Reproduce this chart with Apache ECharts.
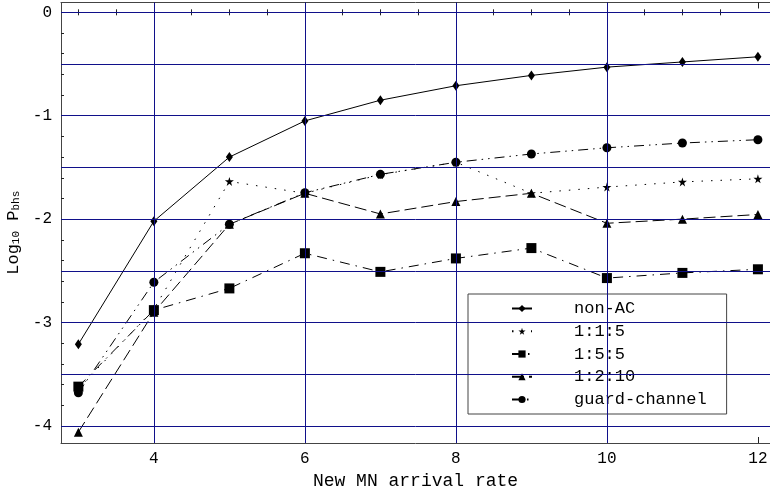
<!DOCTYPE html>
<html>
<head>
<meta charset="utf-8">
<script src="https://cdn.jsdelivr.net/npm/echarts/dist/echarts.min.js"></script>
<style>html,body{margin:0;padding:0;background:#fff;}#c{width:770px;height:491px;}</style>
</head>
<body>
<div id="c"></div>
<script>
var arrivalRate = [3, 4, 5, 6, 7, 8, 9, 10, 11, 12];
var nonAC        = [-3.21, -2.02, -1.40, -1.05, -0.85, -0.71, -0.61, -0.53, -0.48, -0.43];
var ratio115     = [-3.64, -2.87, -1.635, -1.75, -1.57, -1.45, -1.75, -1.69, -1.64, -1.61];
var ratio155     = [-3.62, -2.88, -2.67, -2.33, -2.51, -2.38, -2.28, -2.57, -2.52, -2.485];
var ratio1210    = [-4.06, -2.90, -2.05, -1.75, -1.95, -1.83, -1.75, -2.04, -2.00, -1.955];
var guardChannel = [-3.68, -2.61, -2.05, -1.745, -1.567, -1.45, -1.37, -1.31, -1.264, -1.232];
var seriesNames = ['non-AC', '1:1:5', '1:5:5', '1:2:10', 'guard-channel'];
var xMajorTicks = [4, 6, 8, 10, 12];
var xMinorTicks = [3, 3.5, 4.5, 5, 5.5, 6.5, 7, 7.5, 8.5, 9, 9.5, 10.5, 11, 11.5];
var yMajorTicks = [0, -1, -2, -3, -4];
var yMinorTicks = [-0.2, -0.4, -0.6, -0.8, -1.2, -1.4, -1.6, -1.8, -2.2, -2.4, -2.6, -2.8, -3.2, -3.4, -3.6, -3.8];
var xGridLines = [4, 6, 8, 10];
var yGridLines = [0, -0.5, -1, -1.5, -2, -2.5, -3, -3.5, -4];

var FONT = 'Liberation Mono';
var XMIN = 2.77, XMAX = 12.16, YMIN = -4.165, YMAX = 0.095;
function pairs(arr) { return arrivalRate.map(function (x, i) { return [x, arr[i]]; }); }
var starPath = 'path://M50,0 L61,35 L98,35 L68,57 L79,91 L50,70 L21,91 L32,57 L2,35 L39,35 Z';

function xAx(pos, ticks, len, labels, extra) {
  var o = {
    type: 'value', position: pos, min: XMIN, max: XMAX,
    axisLine: { show: true, onZero: false, lineStyle: { color: '#444', width: 1 } },
    axisTick: { show: true, inside: true, length: len, customValues: ticks, lineStyle: { color: '#222' } },
    axisLabel: labels ? { show: true, customValues: ticks, margin: 8, color: '#000', fontFamily: FONT, fontSize: 16 } : { show: false },
    splitLine: { show: false }
  };
  return Object.assign(o, extra || {});
}
function yAx(pos, ticks, len, labels, extra) {
  var o = {
    type: 'value', position: pos, min: YMIN, max: YMAX,
    axisLine: { show: true, onZero: false, lineStyle: { color: '#444', width: 1 } },
    axisTick: { show: true, inside: true, length: len, customValues: ticks, lineStyle: { color: '#222' } },
    axisLabel: labels ? { show: true, customValues: ticks, margin: 9, color: '#000', fontFamily: FONT, fontSize: 16 } : { show: false },
    splitLine: { show: false }
  };
  return Object.assign(o, extra || {});
}

var chart = echarts.init(document.getElementById('c'), null, { renderer: 'canvas' });
var lineTypes = ['solid', [1.5, 8], [10, 6, 1.5, 6], [12, 5], [10, 5, 1.5, 5, 1.5, 5]];
var symbols = ['diamond', starPath, 'rect', 'triangle', 'circle'];
var sizes = [[7, 10], 9, 10, 9, 9];
var values = [nonAC, ratio115, ratio155, ratio1210, guardChannel];

var series = [{
  name: '_grid', type: 'line', data: [[3, -3.21]], showSymbol: false, silent: true, z: 1,
  lineStyle: { width: 0, opacity: 0 },
  markLine: {
    silent: true, symbol: 'none', animation: false, label: { show: false },
    lineStyle: { color: '#10108a', width: 1, type: 'solid' },
    data: xGridLines.map(function (v) { return { xAxis: v }; }).concat(yGridLines.map(function (v) { return { yAxis: v }; }))
  }
}];
for (var i = 0; i < seriesNames.length; i++) {
  series.push({
    name: seriesNames[i], type: 'line', data: pairs(values[i]), z: 3,
    symbol: symbols[i], symbolSize: sizes[i], showAllSymbol: true,
    lineStyle: { color: '#000', width: 1, type: lineTypes[i] },
    itemStyle: { color: '#000' },
    animation: false
  });
}

chart.setOption({
  animation: false,
  backgroundColor: '#fff',
  grid: { left: 61, right: 0, top: 2.5, bottom: 48, containLabel: false, outerBoundsMode: 'none' },
  xAxis: [
    xAx('bottom', xMajorTicks, 6, true, {
      name: 'New MN arrival rate', nameLocation: 'middle', nameGap: 28,
      nameTextStyle: { fontFamily: FONT, fontSize: 18, color: '#000' }
    }),
    xAx('bottom', xMinorTicks, 3, false, { axisLine: { show: false } }),
    xAx('top', xMajorTicks, 6, false),
    xAx('top', xMinorTicks, 3, false, { axisLine: { show: false } })
  ],
  yAxis: [
    yAx('left', yMajorTicks, 6, true, {
      name: '{n|Log}{s|10}{n| P}{s|bhs}', nameLocation: 'middle', nameGap: 36, nameRotate: 90,
      nameTextStyle: {
        color: '#000', padding: [0, 20, 0, 0],
        rich: {
          n: { fontFamily: FONT, fontSize: 17, color: '#000', verticalAlign: 'bottom', lineHeight: 22 },
          s: { fontFamily: FONT, fontSize: 11, color: '#000', verticalAlign: 'bottom', lineHeight: 16 }
        }
      }
    }),
    yAx('left', yMinorTicks, 3, false, { axisLine: { show: false } })
  ],
  legend: {
    show: true, orient: 'vertical', left: 468, top: 294,
    data: seriesNames,
    backgroundColor: '#fff', borderColor: '#444', borderWidth: 1,
    padding: [6, 20, 6, 43],
    itemWidth: 20, itemHeight: 9, itemGap: 5.75,
    textStyle: { fontFamily: FONT, fontSize: 17, color: '#000', padding: [0, 0, 0, 37] },
    selectedMode: false
  },
  series: series
});
</script>
</body>
</html>
